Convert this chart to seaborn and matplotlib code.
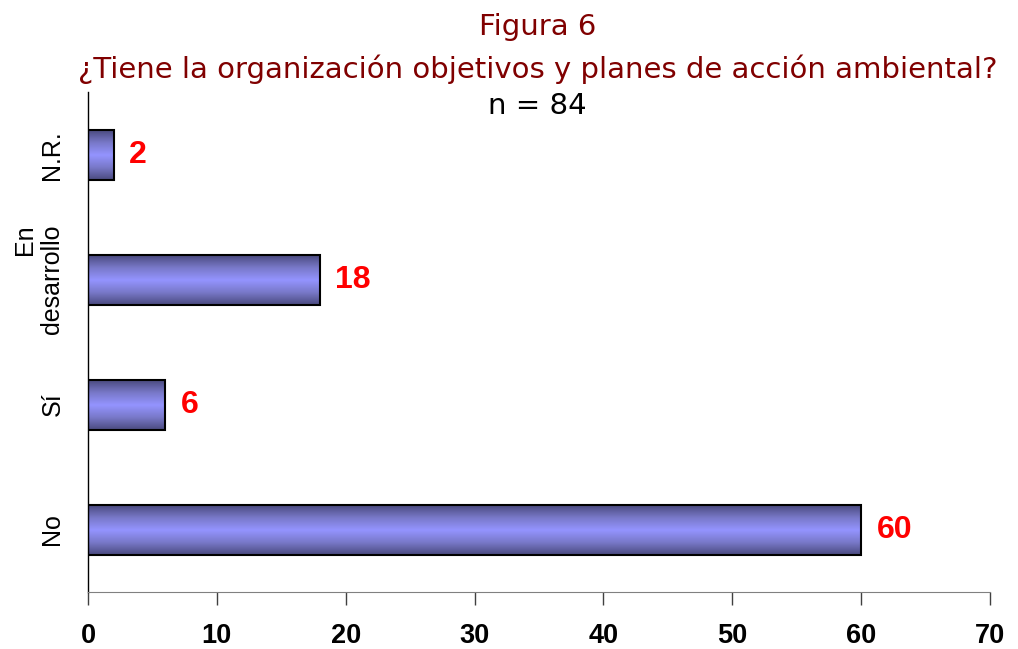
import numpy as np
import pandas as pd
import matplotlib
matplotlib.use("Agg")
import matplotlib.pyplot as plt
import seaborn as sns
from matplotlib.colors import LinearSegmentedColormap

categories = ["N.R.", "En\ndesarrollo", "Sí", "No"]
values = [2, 18, 6, 60]
xticks = [0, 10, 20, 30, 40, 50, 60, 70]

sns.set_style("white")
plt.rcParams['font.family'] = ['Liberation Sans', 'DejaVu Sans']

df = pd.DataFrame({"cat": categories, "val": values})

fig = plt.figure(figsize=(10.18, 6.49), dpi=100)
ax = fig.add_axes([0.0864, 0.0878, 0.9725 - 0.0864, 0.858 - 0.0878])

sns.barplot(data=df, y="cat", x="val", order=categories, orient="h",
            color="#8888ee", width=0.4, edgecolor="black", linewidth=1.5, ax=ax)

cmap = LinearSegmentedColormap.from_list(
    "g", ["#4a4a7e", "#7878c8", "#9494ff", "#7878c8", "#4a4a7e"])
grad = np.linspace(0, 1, 256).reshape(-1, 1)
for p in ax.patches:
    x0, y0 = p.get_x(), p.get_y()
    w, h = p.get_width(), p.get_height()
    im = ax.imshow(grad, cmap=cmap, aspect="auto",
                   extent=[x0, x0 + w, y0 + h, y0], zorder=p.get_zorder() + 0.1,
                   interpolation="bilinear")
    im.set_clip_path(p)
    p.set_facecolor("none")
    p.set_zorder(p.get_zorder() + 0.2)

for i, v in enumerate(values):
    ax.annotate(str(v), xy=(v, i), xytext=(11, 0), textcoords="offset points",
                ha="left", va="center", color="#ff0000", fontsize=23,
                fontweight="bold")

ax.set_xlim(0, 70)
ax.set_ylim(3.5, -0.5)
ax.set_xticks(xticks)
ax.set_xticklabels([str(t) for t in xticks], fontsize=19.5, fontweight="bold",
                   color="black")
ax.tick_params(axis="x", bottom=True, direction="out", length=9, width=1,
               color="#404040", pad=13)
ax.tick_params(axis="y", left=False, length=0, pad=17)
ax.set_yticks(range(len(categories)))
ax.set_yticklabels(categories, fontsize=18, rotation=90, va="center", ha="right",
                   linespacing=1.2, color="black")
ax.set_xlabel("")
ax.set_ylabel("")
for s in ["top", "right"]:
    ax.spines[s].set_visible(False)
ax.spines["left"].set_color("black")
ax.spines["bottom"].set_color("#808080")
ax.spines["left"].set_linewidth(1)

fig.text(0.528, 0.958, "Figura 6", ha="center", va="center", color="#800000",
         fontsize=21, family="DejaVu Sans")
fig.text(0.528, 0.893, "¿Tiene la organización objetivos y planes de acción ambiental?",
         ha="center", va="center", color="#800000", fontsize=21, family="DejaVu Sans")
fig.text(0.528, 0.836, "n = 84", ha="center", va="center", color="black",
         fontsize=21, family="DejaVu Sans")

fig.savefig("out.png", dpi=100)
